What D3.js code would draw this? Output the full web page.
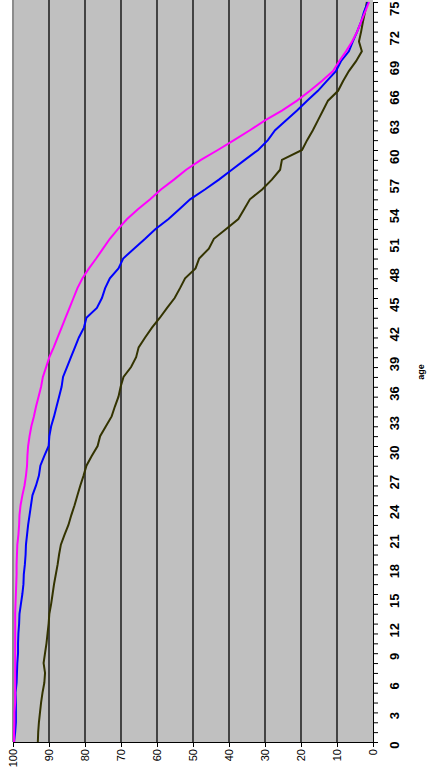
<!DOCTYPE html>
<html>
<head>
<meta charset="UTF-8">
<style>
body { margin: 0; background: #fff; }
.axis text { font-family: "Liberation Sans", Arial, sans-serif; font-size: 11px; fill: #000; }
.axis--age text { font-weight: bold; font-size: 13px; }
.axis path, .axis line { stroke: #000; }
.line { fill: none; stroke-width: 2px; }
</style>
</head>
<body>
<svg width="427" height="776"></svg>
<script src="https://d3js.org/d3.v7.min.js"></script>
<script>
// ages on the category axis (bottom of the picture = 0)
var ages = d3.range(0, 76);

// survival values (%), one per age
var seriesMagenta = [99.7,99.7,99.6,99.6,99.4,99.4,99.4,99.4,99.4,99.4,99.4,99.4,99.4,99.4,99.3,99.2,99.1,99.0,99.0,98.9,
  98.8,98.5,98.3,98.2,97.9,97.4,96.8,96.4,96.1,96.0,95.8,95.4,94.9,94.2,93.6,92.9,92.2,91.7,90.8,89.9,
  88.7,87.6,86.5,85.4,84.3,83.2,82.1,80.7,78.9,76.9,75.0,73.1,70.8,68.3,65.3,61.9,58.9,55.3,51.9,47.8,
  43.1,38.6,34.2,30.0,25.3,21.1,17.5,14.2,11.1,9.4,7.5,5.8,4.4,3.3,2.2,1.1];

var seriesBlue = [99.7,99.4,99.2,99.2,99.2,99.3,99.0,98.9,98.8,98.6,98.6,98.5,98.3,98.2,97.8,97.4,97.1,97.0,96.7,96.5,
  96.4,96.1,95.8,95.4,95.0,94.6,93.6,92.8,92.4,91.3,90.1,89.9,89.4,88.6,87.9,87.2,86.5,86.1,85.0,83.9,
  82.8,81.7,80.3,79.6,76.7,75.3,74.4,73.1,70.7,69.4,66.4,63.3,60.4,56.8,53.8,50.8,46.7,42.8,39.2,35.6,
  31.9,29.2,27.2,24.2,21.1,18.3,15.3,12.8,10.3,8.9,6.7,5.6,4.4,3.3,2.5,1.4];

var seriesOlive = [93.1,93.0,92.8,92.5,92.2,91.8,91.3,91.1,91.5,91.1,90.7,90.4,90.1,89.9,89.4,89.0,88.6,88.1,87.6,87.2,
  86.7,85.7,84.6,83.8,82.9,82.1,81.3,80.4,79.6,78.1,76.5,75.8,74.2,72.6,71.7,70.7,70.1,69.3,67.2,65.8,
  65.1,63.3,61.4,59.2,57.2,55.1,53.6,52.2,49.3,48.3,45.6,44.2,40.8,37.4,35.8,34.2,30.8,28.1,25.8,25.3,
  19.7,18.3,16.7,15.3,13.9,12.5,9.7,8.3,6.7,4.7,3.1,3.9,3.3,2.8,2.2,1.7];

var valueTicks = [0, 10, 20, 30, 40, 50, 60, 70, 80, 90, 100];

var svg = d3.select("svg"),
    plotLeft = 13, plotRight = 373, plotTop = 0, plotBottom = 742;

var x = d3.scaleLinear().domain([100, 0]).range([plotLeft, plotRight]),
    y = d3.scalePoint().domain(ages).range([plotBottom, plotTop + 2]);

// plot area
svg.append("rect")
    .attr("x", plotLeft).attr("y", plotTop)
    .attr("width", plotRight - plotLeft).attr("height", plotBottom - plotTop)
    .attr("fill", "#c0c0c0");

svg.append("line")
    .attr("x1", plotLeft).attr("x2", plotLeft)
    .attr("y1", plotTop).attr("y2", plotBottom)
    .attr("stroke", "#8c8c8c").attr("stroke-width", 2);

// gridlines
svg.append("g").selectAll("line")
    .data(valueTicks.filter(function(d) { return d > 0 && d < 100; }))
    .enter().append("line")
    .attr("x1", function(d) { return x(d); })
    .attr("x2", function(d) { return x(d); })
    .attr("y1", plotTop).attr("y2", plotBottom)
    .attr("stroke", "#000").attr("stroke-width", 1.3);

// value axis (bottom)
var gx = svg.append("g")
    .attr("class", "axis axis--value")
    .attr("transform", "translate(0," + plotBottom + ")")
    .call(d3.axisBottom(x).tickValues(valueTicks).tickSize(5).tickSizeOuter(0));
gx.selectAll("text")
    .attr("transform", "rotate(-90)")
    .attr("text-anchor", "end")
    .attr("x", -7).attr("y", 0).attr("dy", "0.35em");

// age axis (right)
var gy = svg.append("g")
    .attr("class", "axis axis--age")
    .attr("transform", "translate(" + plotRight + ",0)")
    .call(d3.axisRight(y).tickSize(5).tickSizeOuter(0)
      .tickFormat(function(d) { return d % 3 === 0 ? d : ""; }));
gy.selectAll("text")
    .attr("transform", "rotate(-90)")
    .attr("text-anchor", "end")
    .attr("x", 1).attr("y", 26).attr("dy", "0em");

svg.append("text")
    .attr("transform", "translate(424,372) rotate(-90)")
    .attr("text-anchor", "middle")
    .style("font", "bold 9px 'Liberation Sans', Arial, sans-serif")
    .text("age");

// lines
var line = d3.line()
    .x(function(d) { return x(d.v); })
    .y(function(d) { return y(d.age); });

var series = [
  {color: "#333300", values: seriesOlive},
  {color: "#0000ff", values: seriesBlue},
  {color: "#ff00ff", values: seriesMagenta}
];

svg.append("g").selectAll("path")
    .data(series)
    .enter().append("path")
    .attr("class", "line")
    .style("stroke", function(d) { return d.color; })
    .attr("d", function(d) {
      return line(d.values.map(function(v, i) { return {age: ages[i], v: v}; }));
    });
</script>
</body>
</html>
